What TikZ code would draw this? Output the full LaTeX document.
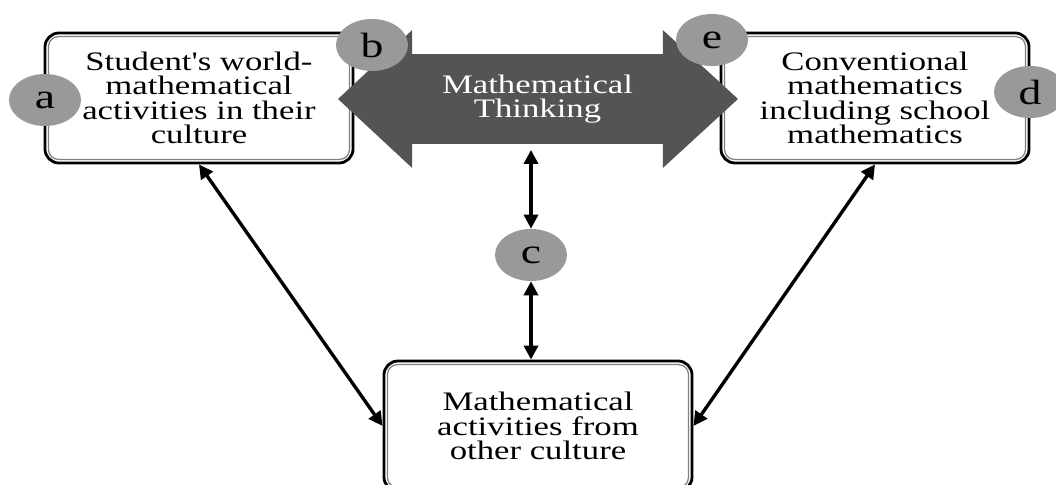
\documentclass[tikz,border=0pt]{standalone}
\usepackage{fontspec}
\usepackage{tikz}
\usetikzlibrary{positioning,calc,shapes.geometric,arrows.meta}
\newfontfamily\figfont{Liberation Serif}[FakeStretch=1.3]
\definecolor{tagGray}{gray}{0.6}
\definecolor{thinkGray}{gray}{0.33}
\newcommand{\bnode}[3]{\node [cbox] (#1) at (#2) {#3}}
\newcommand{\lnode}[3]{\node [tag] (#1) at (#2) {#3}}

\begin{document}
\begin{tikzpicture}[x=0.025cm,y=-0.025cm,
  cbox/.style={draw, line width=2pt, rounded corners=10, minimum width=7.7cm,
    minimum height=3.25cm, align=center, font=\figfont\fontsize{19}{17.4}\selectfont},
  tag/.style={ellipse, fill=tagGray, minimum width=1.8cm, minimum height=1.3cm,
    inner sep=0pt, font=\figfont\fontsize{25}{25}\selectfont},
  link/.style={{Triangle[length=10pt,width=10pt]}-{Triangle[length=10pt,width=10pt]}, line width=2.4pt}]
\useasboundingbox (0,0) rectangle (1056,485);

\bnode{WORLD}{199,98}{Student's world-\\mathematical\\activities in their\\culture};
\bnode{CONV}{875,98}{Conventional\\mathematics\\including school\\mathematics};
\bnode{OTHER}{538,426}{Mathematical\\activities from\\other culture};
\foreach \n in {WORLD,CONV,OTHER}
  \draw[gray, line width=0.9pt, rounded corners=7] ($(\n.north west)+(5,5)$) rectangle ($(\n.south east)+(-5,-5)$);

% mathematical thinking arrow
\node [fill=thinkGray, minimum width=6.275cm, minimum height=2.25cm, inner sep=0pt,
  align=center, text=white, font=\figfont\fontsize{19}{17.6}\selectfont] (THINK) at (537.5,99) {Mathematical\\Thinking};
\fill[thinkGray] ($(THINK.west)+(0.5,-69)$) -- (338,99) -- ($(THINK.west)+(0.5,69)$) -- cycle;
\fill[thinkGray] ($(THINK.east)+(-0.5,-69)$) -- (738,99) -- ($(THINK.east)+(-0.5,69)$) -- cycle;

\lnode{A}{45,100}{a};
\lnode{B}{372,45}{b};
\lnode{C}{531,255}{c};
\lnode{D}{1030,92}{d};
\lnode{E}{712,40}{e};

\draw[link, shorten >=4pt] (C.north) -- (THINK.south -| C.north);
\draw[link] (C.south) -- (OTHER.north -| C.south);
\draw[link] (WORLD.south) -- (OTHER.west);
\draw[link] (CONV.south) -- (OTHER.east);

\end{tikzpicture}
\end{document}
